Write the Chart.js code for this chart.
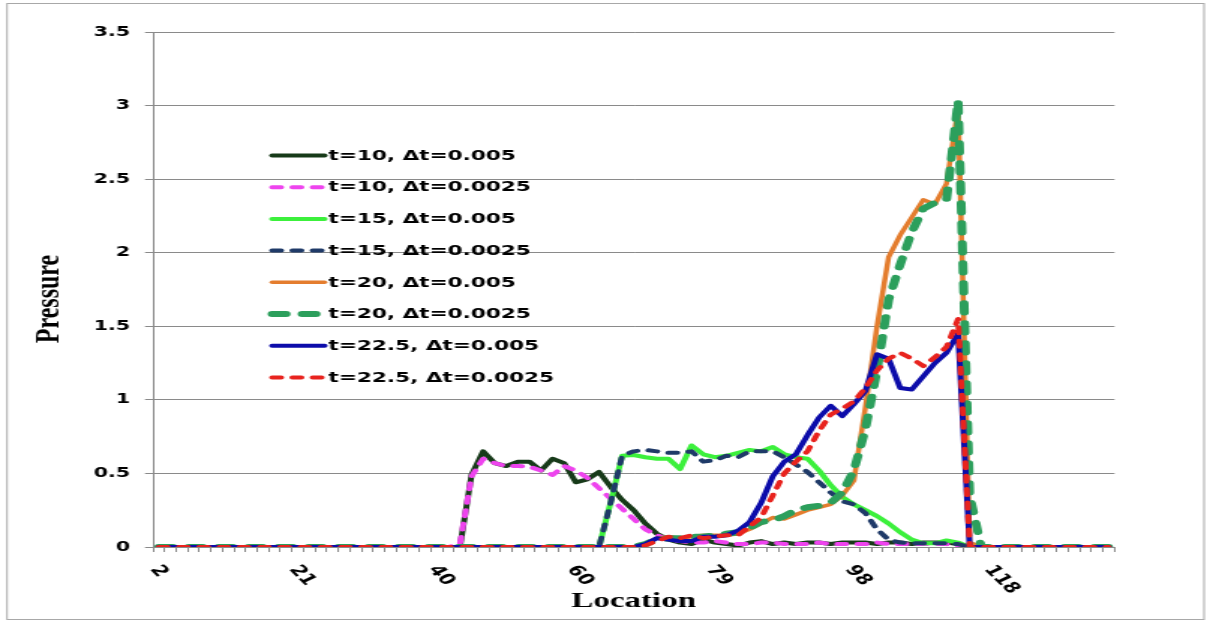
<!DOCTYPE html>
<html>
<head>
<meta charset="utf-8">
<title>Pressure vs Location</title>
<script src="https://cdn.jsdelivr.net/npm/chart.js@4.4.1/dist/chart.umd.min.js"></script>
<style>
  html, body { margin: 0; padding: 0; background: #ffffff; overflow: hidden; }
  /* The chart is laid out on a narrower canvas and widened to the page width,
     which gives the wide, stretched lettering of the original figure. */
  #wrap { width: 807px; height: 622px; transform: scale(1.49938, 1); transform-origin: 0 0; }
  canvas { display: block; }
</style>
</head>
<body>
<div id="wrap"><canvas id="chart" width="807" height="622"></canvas></div>
<script>
// Grid locations (category axis)
const locations = [2,3,5,7,8,10,11,13,15,16,18,19,21,23,24,26,27,29,31,32,
  34,36,37,39,40,42,44,45,47,48,50,52,53,55,56,58,60,61,63,64,
  66,68,69,71,73,74,76,77,79,81,82,84,85,87,89,90,92,93,95,97,
  98,100,102,103,105,106,108,110,111,113,114,116,118,119,121,122,124,126,127,129,
  131,132,134];

// Locations that carry a tick label
const tickLabels = [2, 21, 40, 60, 79, 98, 118];

// Pressure profiles
const t10_dt005 = [
  0,0,0,0,0,0,0,0,0,0,
  0,0,0,0,0,0,0,0,0,0,
  0,0,0,0,0,0,0,0.49,0.65,0.57,
  0.55,0.58,0.58,0.52,0.60,0.57,0.44,0.46,0.51,0.41,
  0.32,0.25,0.16,0.09,0.05,0.03,0.02,0.05,0.03,0.02,
  0.01,0.03,0.04,0.02,0.03,0.02,0.03,0.03,0.02,0.03,
  0.03,0.03,0.02,0.03,0.03,0.02,0.03,0.03,0.03,0.02,
  0,0,0,0,0,0,0,0,0,0,
  0,0,0];
const t10_dt0025 = [
  0,0,0,0,0,0,0,0,0,0,
  0,0,0,0,0,0,0,0,0,0,
  0,0,0,0,0,0,0.02,0.48,0.60,0.57,
  0.55,0.55,0.545,0.52,0.49,0.55,0.52,0.47,0.40,0.33,
  0.26,0.19,0.12,0.08,0.05,0.04,0.03,0.03,0.04,0.03,
  0.02,0.02,0.03,0.03,0.02,0.02,0.02,0.03,0.02,0.02,
  0.02,0.02,0.03,0.02,0.02,0.02,0.02,0.02,0.02,0.01,
  0,0,0,0,0,0,0,0,0,0,
  0,0,0];
const t15_dt005 = [
  0,0,0,0,0,0,0,0,0,0,
  0,0,0,0,0,0,0,0,0,0,
  0,0,0,0,0,0,0,0,0,0,
  0,0,0,0,0,0,0,0,0,0.30,
  0.62,0.625,0.61,0.60,0.60,0.53,0.69,0.63,0.61,0.62,
  0.64,0.66,0.65,0.68,0.63,0.61,0.60,0.52,0.42,0.34,
  0.29,0.25,0.21,0.16,0.10,0.05,0.025,0.025,0.045,0.03,
  0,0,0,0,0,0,0,0,0,0,
  0,0,0];
const t15_dt0025 = [
  0,0,0,0,0,0,0,0,0,0,
  0,0,0,0,0,0,0,0,0,0,
  0,0,0,0,0,0,0,0,0,0,
  0,0,0,0,0,0,0,0,0,0.30,
  0.62,0.65,0.66,0.65,0.64,0.64,0.65,0.58,0.59,0.62,
  0.61,0.65,0.65,0.65,0.61,0.56,0.51,0.44,0.37,0.31,
  0.29,0.23,0.12,0.05,0.03,0.025,0.025,0.025,0.025,0.02,
  0,0,0,0,0,0,0,0,0,0,
  0,0,0];
const t20_dt005 = [
  0,0,0,0,0,0,0,0,0,0,
  0,0,0,0,0,0,0,0,0,0,
  0,0,0,0,0,0,0,0,0,0,
  0,0,0,0,0,0,0,0,0,0,
  0,0,0.02,0.06,0.07,0.06,0.07,0.08,0.08,0.08,
  0.09,0.12,0.16,0.20,0.19,0.22,0.25,0.27,0.29,0.35,
  0.45,0.95,1.50,1.97,2.12,2.24,2.36,2.33,2.47,2.98,
  0.03,0,0,0,0,0,0,0,0,0,
  0,0,0];
const t20_dt0025 = [
  0,0,0,0,0,0,0,0,0,0,
  0,0,0,0,0,0,0,0,0,0,
  0,0,0,0,0,0,0,0,0,0,
  0,0,0,0,0,0,0,0,0,0,
  0,0,0.02,0.05,0.06,0.06,0.07,0.07,0.08,0.09,
  0.10,0.13,0.17,0.18,0.21,0.25,0.27,0.28,0.30,0.37,
  0.52,0.80,1.20,1.68,1.92,2.14,2.30,2.34,2.36,3.03,
  0.35,0,0,0,0,0,0,0,0,0,
  0,0,0];
const t225_dt005 = [
  0,0,0,0,0,0,0,0,0,0,
  0,0,0,0,0,0,0,0,0,0,
  0,0,0,0,0,0,0,0,0,0,
  0,0,0,0,0,0,0,0,0,0,
  0,0,0.02,0.06,0.05,0.04,0.04,0.07,0.07,0.08,
  0.11,0.17,0.30,0.48,0.58,0.63,0.76,0.88,0.96,0.89,
  0.97,1.06,1.31,1.28,1.08,1.07,1.16,1.25,1.32,1.45,
  0,0,0,0,0,0,0,0,0,0,
  0,0,0];
const t225_dt0025 = [
  0,0,0,0,0,0,0,0,0,0,
  0,0,0,0,0,0,0,0,0,0,
  0,0,0,0,0,0,0,0,0,0,
  0,0,0,0,0,0,0,0,0,0,
  0,0,0.01,0.04,0.07,0.06,0.08,0.06,0.07,0.08,
  0.08,0.14,0.20,0.35,0.50,0.58,0.65,0.79,0.90,0.94,
  0.99,1.08,1.20,1.28,1.32,1.28,1.23,1.29,1.36,1.55,
  0,0,0,0,0,0,0,0,0,0,
  0,0,0];

// Series names
const seriesLabels = [
  't=10, \u0394t=0.005', 't=10, \u0394t=0.0025',
  't=15, \u0394t=0.005', 't=15, \u0394t=0.0025',
  't=20, \u0394t=0.005', 't=20, \u0394t=0.0025',
  't=22.5, \u0394t=0.005', 't=22.5, \u0394t=0.0025'
];
const seriesData = [t10_dt005, t10_dt0025, t15_dt005, t15_dt0025,
                    t20_dt005, t20_dt0025, t225_dt005, t225_dt0025];

// Line styles (colour, width, dash) for each series
const styles = [
  { color: '#173a19', width: 4,   dash: [] },
  { color: '#ee44ee', width: 4,   dash: [6, 7.5] },
  { color: '#3cf03c', width: 4,   dash: [] },
  { color: '#1f3a68', width: 4,   dash: [6, 7.5] },
  { color: '#e47d2e', width: 3.5, dash: [] },
  { color: '#2c9f5c', width: 6,   dash: [9.3, 10.7] },
  { color: '#0c0caa', width: 4,   dash: [] },
  { color: '#e8231e', width: 4,   dash: [6, 7.5] }
];

const AXIS_GREY = '#8a8a8a';
const TICK_FONT = { family: 'DejaVu Sans', weight: 'bold', size: 13.7 };
const X_LABEL_SIZE = 14.8;
const TITLE_FONT = { family: 'Liberation Serif', weight: 'bold', size: 22 };
const Y_TITLE_SIZE = 24;

// White page, thin frame around the whole figure
const framePlugin = {
  id: 'frame',
  beforeDraw(chart) {
    const c = chart.ctx;
    c.save();
    c.fillStyle = '#ffffff';
    c.fillRect(0, 0, chart.width, chart.height);
    c.strokeStyle = '#a8a8a8';
    c.lineWidth = 1;
    c.strokeRect(4.7, 3.5, 798.3, 616);
    c.restore();
  }
};

// Slanted category labels below the x axis, and the vertical axis title
const axisTextPlugin = {
  id: 'axisText',
  afterDraw(chart) {
    const xs = chart.scales.x;
    const c = chart.ctx;
    c.save();
    c.font = `bold ${X_LABEL_SIZE}px "${TICK_FONT.family}"`;
    c.fillStyle = '#000000';
    c.textAlign = 'left';
    c.textBaseline = 'middle';
    locations.forEach((loc, i) => {
      if (!tickLabels.includes(loc)) return;
      c.save();
      c.translate(xs.getPixelForValue(i) - 3, xs.top + 20);
      c.rotate(55 * Math.PI / 180);
      c.fillText(String(loc), 0, 0);
      c.restore();
    });

    c.save();
    c.font = `bold ${Y_TITLE_SIZE}px "${TITLE_FONT.family}"`;
    c.textAlign = 'center';
    c.textBaseline = 'middle';
    c.translate(33, 299);
    c.rotate(-Math.PI / 2);
    c.fillText('Pressure', 0, 0);
    c.restore();
    c.restore();
  }
};

// Legend floating inside the plot area
const legendPlugin = {
  id: 'floatingLegend',
  afterDraw(chart) {
    const c = chart.ctx;
    c.save();
    c.font = 'bold 14.4px "DejaVu Sans"';
    c.textAlign = 'left';
    c.textBaseline = 'middle';
    seriesLabels.forEach((label, k) => {
      const st = styles[k];
      const y = 155.5 + k * 31.7;
      c.beginPath();
      c.setLineDash(st.dash);
      c.lineCap = 'round';
      c.lineWidth = st.width;
      c.strokeStyle = st.color;
      c.moveTo(181.5, y);
      c.lineTo(216.5, y);
      c.stroke();
      c.setLineDash([]);
      c.fillStyle = '#000000';
      c.fillText(label, 219, y + 0.5);
    });
    c.restore();
  }
};

new Chart(document.getElementById('chart'), {
  type: 'line',
  data: {
    labels: locations,
    datasets: seriesData.map((data, k) => ({
      label: seriesLabels[k],
      data: data,
      borderColor: styles[k].color,
      backgroundColor: styles[k].color,
      borderWidth: styles[k].width,
      borderDash: styles[k].dash,
      borderCapStyle: 'round',
      borderJoinStyle: 'round',
      pointRadius: 0,
      tension: 0,
      fill: false,
      order: seriesData.length - k
    }))
  },
  options: {
    responsive: false,
    animation: false,
    devicePixelRatio: 1,
    layout: { padding: { top: 32, right: 63.7, left: 0, bottom: 0 } },
    plugins: {
      legend: { display: false },
      tooltip: { enabled: false }
    },
    scales: {
      x: {
        type: 'category',
        offset: true,
        grid: { offset: true, drawOnChartArea: false, drawTicks: true, tickLength: 5, color: AXIS_GREY, lineWidth: 1 },
        border: { display: true, color: AXIS_GREY, width: 1 },
        ticks: { display: false, autoSkip: false },
        title: { display: true, text: 'Location', color: '#000000', font: TITLE_FONT, padding: { top: 0, bottom: 7 } },
        afterFit(s) { s.height = 75; s.paddingLeft = 0; s.paddingRight = 0; }
      },
      y: {
        min: 0,
        max: 3.5,
        ticks: {
          stepSize: 0.5,
          color: '#000000',
          font: TICK_FONT,
          padding: 10,
          callback: (v) => String(Math.round(v * 10) / 10)
        },
        grid: { color: AXIS_GREY, lineWidth: 1, drawTicks: true, tickLength: 5.3 },
        border: { display: true, color: AXIS_GREY, width: 1 },
        title: { display: false },
        afterFit(s) { s.width = 102; s.paddingTop = 0; s.paddingBottom = 0; }
      }
    }
  },
  plugins: [framePlugin, axisTextPlugin, legendPlugin]
});
</script>
</body>
</html>
